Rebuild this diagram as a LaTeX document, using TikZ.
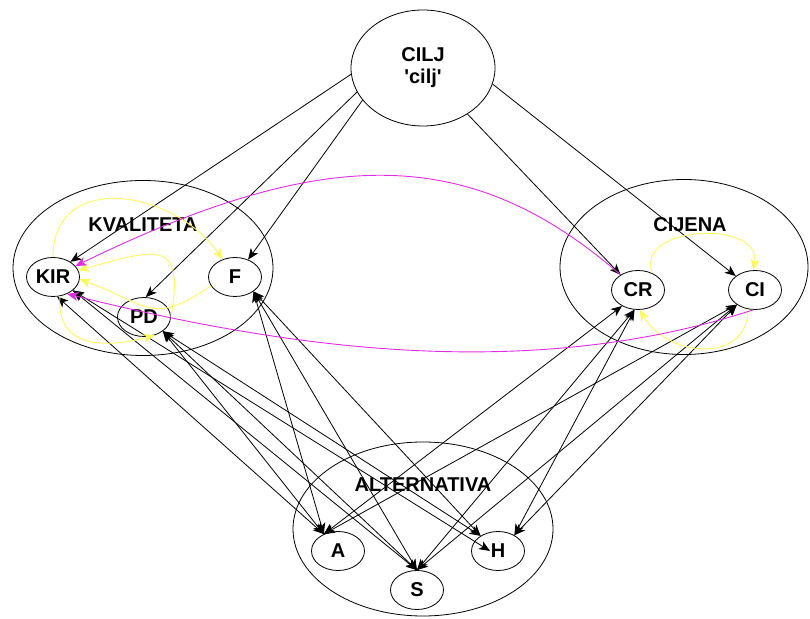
\documentclass[tikz,border=0pt]{standalone}
\usepackage{fontspec}
\setmainfont{Liberation Sans}
\usetikzlibrary{arrows.meta, positioning, shapes.geometric}
\definecolor{fbyellow}{RGB}{250,250,95}
\definecolor{inflmag}{RGB}{225,45,225}

\begin{document}
\begin{tikzpicture}[x=1pt, y=1pt,
  >={Stealth[length=11pt,width=9pt,inset=3pt]},
  txt/.style={font=\bfseries\fontsize{20}{22}\selectfont},
  el/.style={ellipse, draw, line width=0.8pt, inner sep=0pt},
  crit/.style={el, txt, minimum width=53pt, minimum height=39pt},
  grp/.style={el, minimum width=260pt, minimum height=175pt},
  goal/.style={->, line width=0.8pt},
  dep/.style={<->, line width=0.8pt},
  fb/.style={->, draw=fbyellow, line width=0.9pt},
  infl/.style={->, draw=inflmag, line width=0.9pt}]
\useasboundingbox (0,0) rectangle (810,618);
% groups
\node[grp] (kval) at (143,350) {};
\node[grp, minimum width=248pt] (cij) at (684,351) {};
\node[grp, minimum height=174pt] (alt) at (423,89) {};
\node[txt] (kvallbl) at (143,393) {KVALITETA};
\node[txt] (cijlbl) at (690,393) {CIJENA};
\node[txt] (altlbl) at (423,133) {ALTERNATIVA};
% goal
\node[el, txt, minimum width=144pt, minimum height=116pt, align=center] (cilj) at (423,550) {CILJ\\\textquotesingle cilj\textquotesingle};
% criteria
\node[crit] (KIR) at (53,341) {KIR};
\node[crit] (PD) at (144,301) {PD};
\node[crit] (F) at (235,341) {F};
\node[crit] (CR) at (638,328) {CR};
\node[crit] (CI) at (755,328) {CI};
% alternatives
\node[crit] (A) at (338,67) {A};
\node[crit] (S) at (417,28) {S};
\node[crit] (H) at (498,67) {H};
\coordinate (Hin) at ([xshift=-8pt]H.center);

\draw[goal] (cilj.185) -- (KIR.41);
\draw[goal] (cilj.200) -- (PD.85);
\draw[goal] (cilj.208) -- (F.53);
\draw[goal] (cilj.-46) -- (CR.139);
\draw[goal] (cilj.-13) -- (CI.144);

\draw[dep] (KIR.-78) -- (A.130);
\draw[dep] (KIR.-34) -- (S.90);
\draw[dep] (KIR.-34) -- (Hin);
\draw[dep] (PD.-37) -- (A.130);
\draw[dep] (PD.-37) -- (S.90);
\draw[dep] (PD.-37) -- (H.139);
\draw[dep] (F.-38) -- (A.130);
\draw[dep] (F.-38) -- (S.90);
\draw[dep] (F.-38) -- (H.139);
\draw[dep] (CR.-135) -- (A.130);
\draw[dep] (CR.-100) -- (S.90);
\draw[dep] (CR.-100) -- (H.44);
\draw[dep] (CI.-141) -- (A.130);
\draw[dep] (CI.-141) -- (S.90);
\draw[dep] (CI.-141) -- (H.44);

% inner dependencies
\draw[fb] (KIR.north) to[out=90, in=125, looseness=1.3] (F.125);
\draw[fb] (PD.east) to[out=80, in=15, looseness=2] (KIR.15);
\draw[fb] (F.200) to[out=215, in=-20, looseness=1.4] (KIR.-5);
\draw[fb] (KIR.-70) to[out=-95, in=195, looseness=1.3] (PD.-60);
\draw[fb] (CR.50) to[out=110, in=80, looseness=1.3] (CI.95);
\draw[fb] (CI.-110) to[out=-90, in=-60, looseness=1.3] (CR.-85);

\draw[infl] (CR.139) to[out=139, in=26, out distance=197pt, in distance=281pt] (KIR.26);
\draw[infl] (CI.-95) to[out=198, in=-14, looseness=0.87] (KIR.-50);
\end{tikzpicture}
\end{document}
